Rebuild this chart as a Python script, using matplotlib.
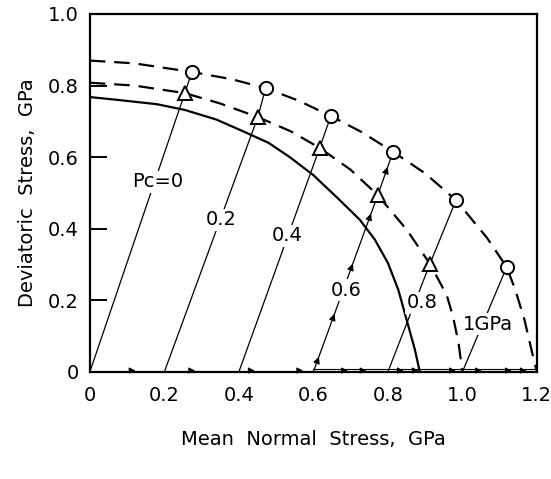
import numpy as np
import matplotlib
matplotlib.use("Agg")
import matplotlib.pyplot as plt

# curves (mean stress, deviatoric stress), GPa
solid_x = [0.0, 0.075, 0.18, 0.255, 0.34, 0.41, 0.48, 0.537, 0.60, 0.671, 0.725, 0.765, 0.800, 0.828, 0.852, 0.872, 0.886]
solid_y = [0.768, 0.760, 0.748, 0.732, 0.705, 0.673, 0.640, 0.600, 0.550, 0.480, 0.425, 0.370, 0.305, 0.230, 0.140, 0.065, 0.0]

inner_x = [0.0, 0.12, 0.255, 0.35, 0.451, 0.54, 0.617, 0.70, 0.773, 0.851, 0.913, 0.958, 0.975, 0.990, 1.0]
inner_y = [0.808, 0.800, 0.779, 0.750, 0.712, 0.672, 0.626, 0.565, 0.494, 0.397, 0.302, 0.215, 0.155, 0.080, 0.0]

outer_x = [0.0, 0.12, 0.274, 0.38, 0.472, 0.56, 0.647, 0.73, 0.814, 0.90, 0.983, 1.066, 1.119, 1.142, 1.167, 1.186, 1.2]
outer_y = [0.870, 0.862, 0.838, 0.818, 0.793, 0.758, 0.715, 0.670, 0.615, 0.555, 0.480, 0.375, 0.293, 0.230, 0.145, 0.060, 0.0]

# stress paths: confining pressure, triangle point, circle point
pc_values = [0.0, 0.2, 0.4, 0.6, 0.8, 1.0]
tri_x = [0.255, 0.451, 0.617, 0.773, 0.913, None]
tri_y = [0.779, 0.712, 0.626, 0.494, 0.302, None]
circ_x = [0.274, 0.472, 0.647, 0.814, 0.983, 1.119]
circ_y = [0.838, 0.793, 0.715, 0.615, 0.480, 0.293]

pc_labels = ["Pc=0", "0.2", "0.4", "0.6", "0.8", "1GPa"]
label_x = [0.183, 0.354, 0.531, 0.687, 0.891, 1.068]
label_y = [0.531, 0.425, 0.380, 0.229, 0.193, 0.134]

# arrowheads along the hydrostatic axis and along the Pc=0.6 path
axis_arrow_x = [0.11, 0.27, 0.43, 0.56, 0.68, 0.73, 0.83, 0.87, 0.97, 1.04, 1.12, 1.16]
path6_arrow_y = [0.03, 0.15, 0.29, 0.43, 0.56]

fig = plt.figure(figsize=(5.51, 4.79), dpi=100)
ax = fig.add_axes([0.163, 0.2234, 0.8113, 0.7474])

ax.plot(solid_x, solid_y, color="k", lw=1.6, solid_joinstyle="round")
ax.plot(inner_x, inner_y, color="k", lw=1.6, dashes=(7, 4))
ax.plot(outer_x, outer_y, color="k", lw=1.6, dashes=(7, 4))

# hydrostatic loading along the axis
ax.plot([0.6, 1.2], [0.008, 0.008], color="k", lw=0.8)
for x in axis_arrow_x:
    ax.annotate("", xy=(x + 0.02, 0.004), xytext=(x - 0.01, 0.004),
                arrowprops=dict(arrowstyle="-|>", lw=0.8, color="k", mutation_scale=9))

for pc, tx, ty, cx, cy in zip(pc_values, tri_x, tri_y, circ_x, circ_y):
    xs, ys = [pc], [0.0]
    if tx is not None:
        xs.append(tx)
        ys.append(ty)
    xs.append(cx)
    ys.append(cy)
    ax.plot(xs, ys, color="k", lw=0.9, zorder=2)

# arrows on the 0.6 path
for y in path6_arrow_y:
    if y < tri_y[3]:
        x0, y0, x1, y1 = 0.6, 0.0, tri_x[3], tri_y[3]
    else:
        x0, y0, x1, y1 = tri_x[3], tri_y[3], circ_x[3], circ_y[3]
    x = x0 + (x1 - x0) * (y - y0) / (y1 - y0)
    dxy = (x1 - x0) / (y1 - y0)
    ax.annotate("", xy=(x + 0.02 * dxy, y + 0.02), xytext=(x - 0.01 * dxy, y - 0.01),
                arrowprops=dict(arrowstyle="-|>", lw=0.8, color="k", mutation_scale=10),
                zorder=3)

ax.plot([t for t in tri_x if t is not None], [t for t in tri_y if t is not None],
        ls="none", marker="^", ms=9.5, mfc="white", mec="k", mew=1.4, zorder=5)
ax.plot(circ_x, circ_y, ls="none", marker="o", ms=9.5, mfc="white", mec="k",
        mew=1.4, zorder=5)

for lab, x, y in zip(pc_labels, label_x, label_y):
    ax.text(x, y, lab, fontsize=14, ha="center", va="center", zorder=6,
            bbox=dict(facecolor="white", edgecolor="none", pad=1.0))

ax.set_xlim(0, 1.2)
ax.set_ylim(0, 1.0)
ax.set_xticks([0, 0.2, 0.4, 0.6, 0.8, 1.0, 1.2])
ax.set_xticklabels(["0", "0.2", "0.4", "0.6", "0.8", "1.0", "1.2"])
ax.set_yticks([0, 0.2, 0.4, 0.6, 0.8, 1.0])
ax.set_yticklabels(["0", "0.2", "0.4", "0.6", "0.8", "1.0"])
ax.tick_params(axis="y", direction="in", length=12, width=1.4, labelsize=14, pad=8)
ax.tick_params(axis="x", length=0, labelsize=14, pad=10)
for sp in ax.spines.values():
    sp.set_linewidth(1.6)

ax.set_xlabel("Mean  Normal  Stress,  GPa", fontsize=14, labelpad=18)
ax.set_ylabel("Deviatoric  Stress,  GPa", fontsize=14, labelpad=8)

fig.savefig("out.png", dpi=100)
